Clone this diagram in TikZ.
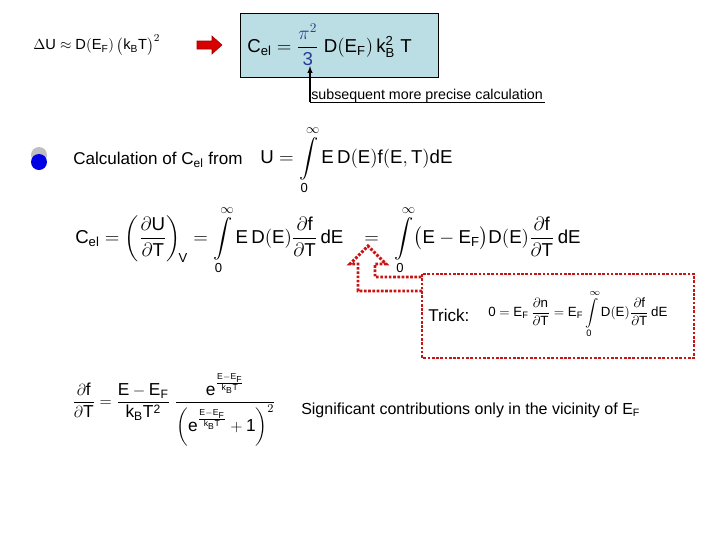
\documentclass[tikz,border=0pt]{standalone}
\usepackage{amsmath}
\usepackage{fontspec}
\setmainfont{Liberation Sans}
\setsansfont{Liberation Sans}
\definecolor{boxblue}{RGB}{186,222,228}
\definecolor{tred}{RGB}{200,20,20}
\definecolor{fracblue}{RGB}{40,60,150}
\tikzset{lbl/.style={anchor=west,inner sep=0pt,font=\fontsize{12.8}{14}\selectfont},
  eq/.style={anchor=west,inner sep=0pt,font=\fontsize{14}{16}\selectfont},
  dots/.style={draw=tred,line width=2.2pt,dash pattern=on 2pt off 1.2pt}}
\newcommand{\s}[1]{\mathsf{#1}}
\begin{document}
\begin{tikzpicture}[x=0.75pt,y=-0.75pt]
\useasboundingbox (0,0) rectangle (720,540);
\node[eq,font=\fontsize{11}{12}\selectfont] (du) at (33,45) {$\Delta\s{U}\approx\s{D(E_F)}\,\bigl(\s{k_BT}\bigr)^2$};
\draw[fill=red!85!black,draw=red!60!black] (197,41)--(212,41)--(212,36)--(222,45)--(212,54)--(212,49)--(197,49)--cycle;
\node[draw,fill=boxblue,minimum width=148.5pt,minimum height=48pt,anchor=north west] (cel) at (240,13) {};
\node[eq,font=\fontsize{14}{16}\selectfont] (celf) at (247,45) {$\s{C_{el}}=\dfrac{\color{fracblue}\pi^2}{\color{fracblue}\s{3}}\ \s{D(E_F)\,k_B^2\ T}$};
\coordinate (c1) at (310,102);
\coordinate (c2) at (545,102);
\draw[-latex,thick] (c1) -- (310,66);
\draw (c1) -- (c2);
\node[lbl,font=\fontsize{10.7}{12}\selectfont] (sub) at (311,96) {subsequent more precise calculation};
\fill[gray!50] (39,155) circle (8);
\fill[blue!90!black] (39,162) circle (8);
\node[lbl] (calc) at (73,160) {Calculation of C$_{\text{el}}$ from};
\node[eq] (uf) at (260,160) {$\s{U}=\displaystyle\int\limits_{\s0}^{\infty}\s{E\,D(E)f(E,T)dE}$};
\node[eq] (big) at (75,240) {$\s{C_{el}}=\left(\dfrac{\partial\s{U}}{\partial\s{T}}\right)_{\!\s{V}}=\displaystyle\int\limits_{\s0}^{\infty}\s{E\,D(E)}\frac{\partial\s{f}}{\partial\s{T}}\,\s{dE}\ \ \ =\ \ \int\limits_{\s0}^{\infty}\bigl(\s{E}-\s{E_F}\bigr)\s{D(E)}\frac{\partial\s{f}}{\partial\s{T}}\,\s{dE}$};
\draw[dots] (422,274) rectangle (694,358);
\draw[dots] (422,291) -- (358,291) -- (358,264) -- (350,264) -- (368,246) -- (386,264) -- (375,264) -- (375,277) -- (422,277);
\node[lbl] (trick) at (428,315) {Trick:};
\node[eq,font=\fontsize{10}{11}\selectfont] (tf) at (488,314) {$\s0=\s{E_F}\,\dfrac{\partial\s{n}}{\partial\s{T}}=\s{E_F}\displaystyle\int\limits_{\s0}^{\infty}\s{D(E)}\frac{\partial\s{f}}{\partial\s{T}}\,\s{dE}$};
\node[eq,font=\fontsize{13}{15}\selectfont] (dfdt) at (72,410) {$\dfrac{\partial\s{f}}{\partial\s{T}}=\dfrac{\s{E}-\s{E_F}}{\s{k_BT^2}}\;\dfrac{\s{e}^{\frac{\s{E-E_F}}{\s{k_BT}}}}{\left(\s{e}^{\frac{\s{E-E_F}}{\s{k_BT}}}+\s1\right)^{2}}$};
\node[lbl,font=\fontsize{12}{14}\selectfont] (sig) at (301,410) {Significant contributions only in the vicinity of E$_\text{F}$};
\end{tikzpicture}
\end{document}
